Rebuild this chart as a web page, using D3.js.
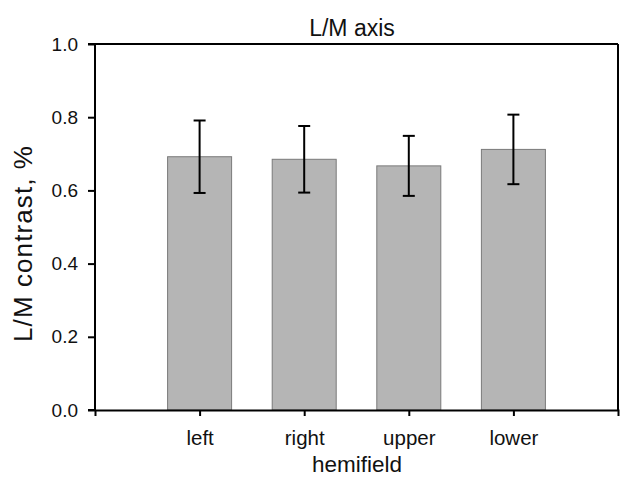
<!DOCTYPE html>
<html>
<head>
<meta charset="utf-8">
<script src="https://cdn.jsdelivr.net/npm/d3@7"></script>
<style>
    body { margin: 0; background: #fff; }
    svg text { font-family: "Liberation Sans", Arial, sans-serif; fill: #111; }
</style>
</head>
<body>
<svg id="chart" width="622" height="479"></svg>
<script>
// data
var categories = ["left", "right", "upper", "lower"];
var means = [0.692, 0.685, 0.667, 0.712];
var errors = [0.099, 0.091, 0.082, 0.095];
var yTicks = [0.0, 0.2, 0.4, 0.6, 0.8, 1.0];

var margin = { top: 44, right: 4, bottom: 69, left: 95 },
    width = 622 - margin.left - margin.right,
    height = 479 - margin.top - margin.bottom;

var svg = d3.select('#chart');
var g = svg.append('g')
    .attr('transform', 'translate(' + margin.left + ',' + margin.top + ')');

var x = d3.scalePoint()
    .domain(categories)
    .range([0, width])
    .padding(1);

var y = d3.scaleLinear()
    .domain([0, 1])
    .range([height, 0]);

var barWidth = 64;

// bars
g.selectAll('.bar')
    .data(categories)
    .enter().append('rect')
    .attr('class', 'bar')
    .attr('x', function(d) { return x(d) - barWidth / 2; })
    .attr('y', function(d, i) { return y(means[i]); })
    .attr('width', barWidth)
    .attr('height', function(d, i) { return height - y(means[i]); })
    .attr('fill', '#b5b5b5')
    .attr('stroke', '#7a7a7a')
    .attr('stroke-width', 1);

// error bars
var eb = g.selectAll('.err')
    .data(categories)
    .enter().append('g')
    .attr('class', 'err')
    .attr('stroke', '#000')
    .attr('stroke-width', 2);

eb.append('line')
    .attr('x1', function(d) { return x(d); })
    .attr('x2', function(d) { return x(d); })
    .attr('y1', function(d, i) { return y(means[i] - errors[i]); })
    .attr('y2', function(d, i) { return y(means[i] + errors[i]); });

[-1, 1].forEach(function(s) {
    eb.append('line')
        .attr('x1', function(d) { return x(d) - 6; })
        .attr('x2', function(d) { return x(d) + 6; })
        .attr('y1', function(d, i) { return y(means[i] + s * errors[i]); })
        .attr('y2', function(d, i) { return y(means[i] + s * errors[i]); });
});

// box (top and right)
g.append('line')
    .attr('x1', 0).attr('x2', width)
    .attr('y1', 0).attr('y2', 0)
    .attr('stroke', '#000').attr('stroke-width', 2);
g.append('line')
    .attr('x1', width).attr('x2', width)
    .attr('y1', 0).attr('y2', height)
    .attr('stroke', '#000').attr('stroke-width', 2);

// axes
var yAxis = g.append('g')
    .call(d3.axisLeft(y).tickValues(yTicks).tickFormat(d3.format('.1f')).tickSize(7).tickPadding(10));

var xAxis = g.append('g')
    .attr('transform', 'translate(0,' + height + ')')
    .call(d3.axisBottom(x).tickSize(6).tickPadding(14));

[yAxis, xAxis].forEach(function(a) {
    a.select('.domain').attr('stroke', '#000').attr('stroke-width', 2);
    a.selectAll('.tick line').attr('stroke', '#000').attr('stroke-width', 2);
    a.selectAll('.tick text')
        .attr('font-family', '"Liberation Sans", Arial, sans-serif')
        .attr('fill', '#111');
});
yAxis.selectAll('.tick text').attr('font-size', 19);
xAxis.selectAll('.tick text').attr('font-size', 20.5);
yAxis.select('.domain').attr('d', 'M-7,' + height + 'H0V0H-7');

// titles
svg.append('text')
    .attr('x', 352)
    .attr('y', 36)
    .attr('text-anchor', 'middle')
    .attr('font-size', 23)
    .text('L/M axis');

svg.append('text')
    .attr('x', 357)
    .attr('y', 472)
    .attr('text-anchor', 'middle')
    .attr('font-size', 22.5)
    .text('hemifield');

svg.append('text')
    .attr('transform', 'translate(32,244) rotate(-90)')
    .attr('text-anchor', 'middle')
    .attr('font-size', 26)
    .attr('textLength', 196)
    .attr('lengthAdjust', 'spacing')
    .text('L/M contrast, %');
</script>
</body>
</html>
